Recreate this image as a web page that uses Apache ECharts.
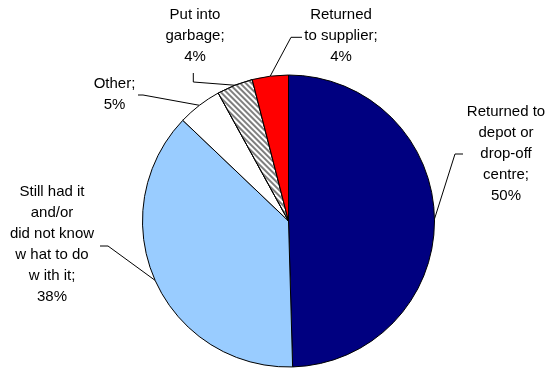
<!DOCTYPE html>
<html>
<head>
<meta charset="utf-8">
<script src="https://cdn.jsdelivr.net/npm/echarts@6/dist/echarts.min.js"></script>
<style>
html,body{margin:0;padding:0;background:#fff;}
#c{width:549px;height:368px;}
</style>
</head>
<body>
<div id="c"></div>
<script>
// Data (percent of respondents)
var categories = [
  'Returned to\ndepot or\ndrop-off\ncentre',
  'Still had it\nand/or\ndid not know\nw hat to do\nw ith it',
  'Other',
  'Put into\ngarbage',
  'Returned\nto supplier'
];
var values = [49.6, 37.6, 4.9, 4.0, 4.0];
var colors = ['#000080', '#99CCFF', '#FFFFFF', '#FFFFFF', '#FF0000'];

// label placement (layout only): block centre x, block top y, bend point, end point
var labelPos = [
  {x: 506, y: 101.5, bend: [455, 154], end: [463, 154]},
  {x: 52,  y: 181,   bend: [108, 246], end: [100, 246]},
  {x: 114.5, y: 73.5, bend: [143, 95], end: [138, 95]},
  {x: 195, y: 4.5,   bend: [193.3, 82], end: [193.3, 73]},
  {x: 341, y: 4.5,   bend: [291, 37.3], end: [302, 37.3]}
];

var data = categories.map(function (name, i) {
  var item = {name: name, value: values[i], itemStyle: {color: colors[i]}};
  if (i === 3) {
    item.itemStyle.decal = {
      symbol: 'rect',
      symbolSize: 1,
      color: '#7f7f7f',
      backgroundColor: null,
      dashArrayX: [[1, 0]],
      dashArrayY: [2, 2],
      rotation: Math.PI / 4
    };
  }
  return item;
});

var chart = echarts.init(document.getElementById('c'), null, {renderer: 'canvas'});
chart.setOption({
  animation: false,
  backgroundColor: '#fff',
  series: [{
    type: 'pie',
    center: [288.5, 221],
    radius: 146,
    startAngle: 90,
    clockwise: true,
    avoidLabelOverlap: false,
    data: data,
    itemStyle: {borderColor: '#000', borderWidth: 1},
    emphasis: {disabled: true},
    label: {
      show: true,
      position: 'outside',
      fontFamily: 'Liberation Sans, Arial, sans-serif',
      fontSize: 15,
      lineHeight: 21,
      color: '#000',
      align: 'center',
      formatter: function (p) {
        return p.name + ';\n' + Math.round(p.value) + '%';
      }
    },
    labelLine: {
      show: true,
      smooth: false,
      lineStyle: {color: '#000', width: 1}
    },
    labelLayout: function (params) {
      var lp = labelPos[params.dataIndex];
      var start = params.labelLinePoints ? params.labelLinePoints[0] : lp.bend;
      return {
        x: lp.x,
        y: lp.y,
        align: 'center',
        verticalAlign: 'top',
        labelLinePoints: [start, lp.bend, lp.end]
      };
    }
  }]
});
</script>
</body>
</html>
